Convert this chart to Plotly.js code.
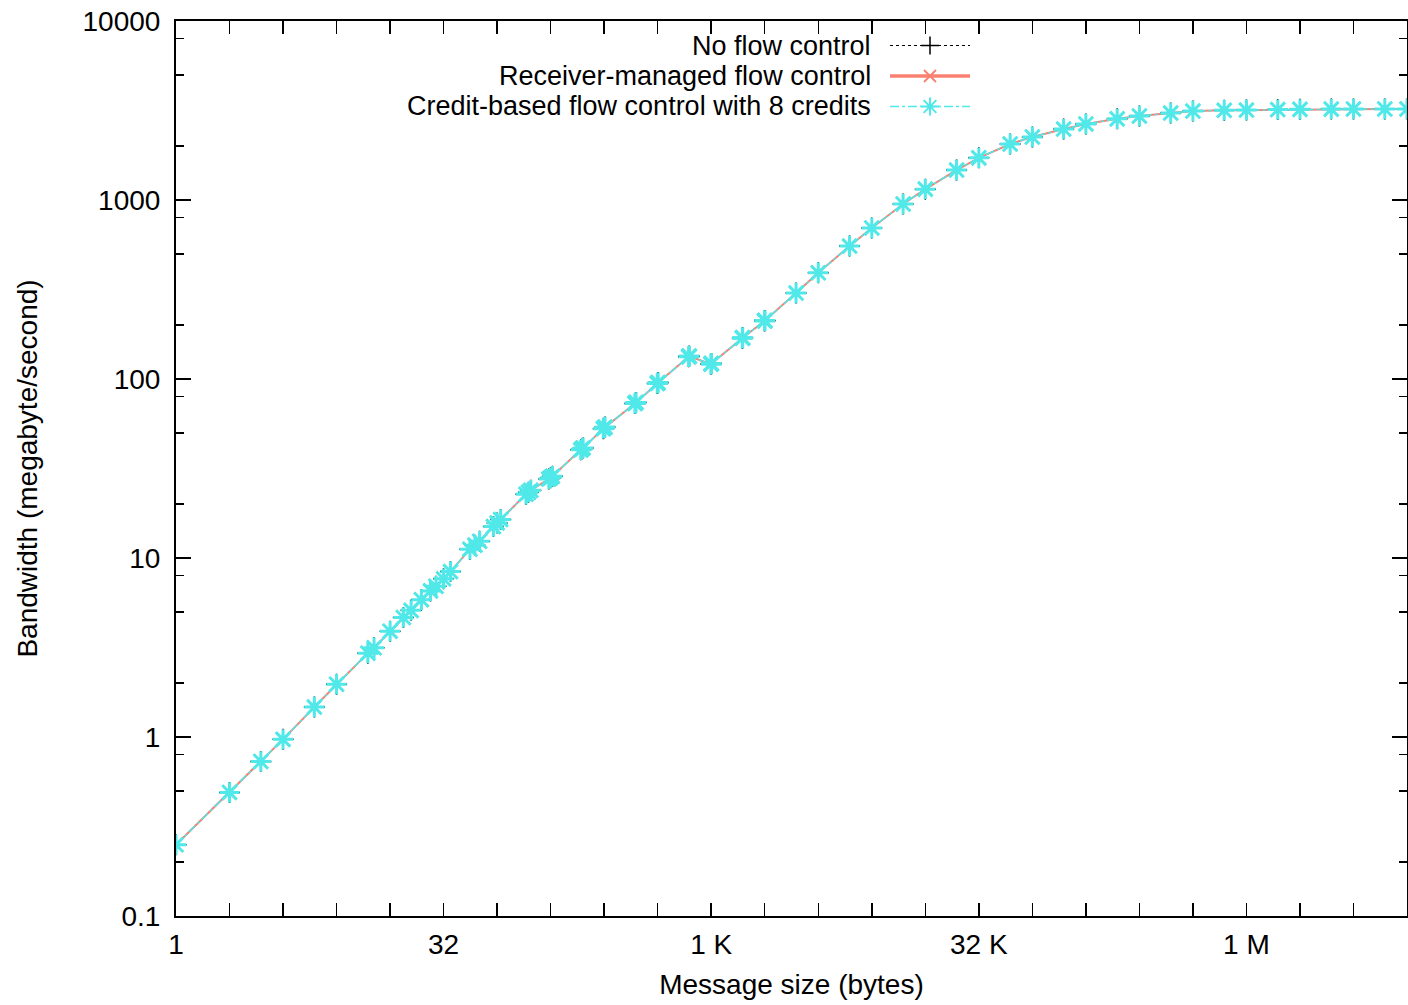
<!DOCTYPE html>
<html>
<head>
<meta charset="utf-8">
<script src="https://cdn.plot.ly/plotly-3.0.1.min.js"></script>
<style>
  html, body { margin: 0; padding: 0; background: #ffffff; }
  #chart { width: 1408px; height: 1005px; }
</style>
</head>
<body>
<div id="chart"></div>
<script>
// Message sizes in bytes (NetPIPE-style sequence)
const messageSizes = [
  1, 2, 3, 4, 6, 8, 12, 13, 16, 19, 21, 24, 27, 29, 32, 35,
  45, 48, 51, 61, 64, 67, 93, 96, 99, 125, 128, 131,
  189, 192, 195, 253, 256, 259, 381, 384, 387, 509, 512, 515,
  765, 768, 771, 1021, 1024, 1027, 1533, 1536, 1539, 2045, 2048, 2051,
  3072, 4096, 6144, 8192, 12288, 16384, 24576, 32768, 49152, 65536,
  98304, 131072, 196608, 262144, 393216, 524288, 786432, 1048576,
  1572864, 2097152, 3145728, 4194304, 6291456, 8388608
];

// Bandwidth (megabyte/second)
const bwNoFlowControl = [
  0.25, 0.49, 0.73, 0.97, 1.47, 1.97, 2.94, 3.15, 3.9, 4.65, 5.1, 5.85, 6.55, 6.95, 7.65, 8.4,
  11.2, 11.8, 12.4, 15.0, 15.7, 16.4, 22.7, 23.3, 23.9, 27.6, 28.1, 28.6,
  40.2, 40.7, 41.2, 52.8, 53.3, 53.9, 73.0, 73.5, 74.0, 94.5, 95.0, 95.5,
  133, 134, 134, 121, 122, 122, 169, 170, 170, 211, 212, 212,
  302, 392, 553, 698, 950, 1150, 1470, 1720, 2055, 2250,
  2490, 2660, 2840, 2945, 3060, 3140, 3170, 3180,
  3200, 3210, 3220, 3225, 3225, 3225
];
const bwReceiverManaged = [
  0.25, 0.49, 0.73, 0.97, 1.47, 1.97, 2.94, 3.15, 3.9, 4.65, 5.1, 5.85, 6.55, 6.95, 7.65, 8.4,
  11.2, 11.8, 12.4, 15.0, 15.7, 16.4, 22.7, 23.3, 23.9, 27.6, 28.1, 28.6,
  40.2, 40.7, 41.2, 52.8, 53.3, 53.9, 73.0, 73.5, 74.0, 94.5, 95.0, 95.5,
  133, 134, 134, 121, 122, 122, 169, 170, 170, 211, 212, 212,
  302, 392, 553, 698, 950, 1150, 1470, 1720, 2055, 2250,
  2490, 2660, 2840, 2945, 3060, 3140, 3170, 3180,
  3200, 3210, 3220, 3225, 3225, 3225
];
const bwCreditBased = [
  0.25, 0.49, 0.73, 0.97, 1.47, 1.97, 2.94, 3.15, 3.9, 4.65, 5.1, 5.85, 6.55, 6.95, 7.65, 8.4,
  11.2, 11.8, 12.4, 15.0, 15.7, 16.4, 22.7, 23.3, 23.9, 27.6, 28.1, 28.6,
  40.2, 40.7, 41.2, 52.8, 53.3, 53.9, 73.0, 73.5, 74.0, 94.5, 95.0, 95.5,
  133, 134, 134, 121, 122, 122, 169, 170, 170, 211, 212, 212,
  302, 392, 553, 698, 950, 1150, 1470, 1720, 2055, 2250,
  2490, 2660, 2840, 2945, 3060, 3140, 3170, 3180,
  3200, 3210, 3220, 3225, 3225, 3225
];

const seriesNames = [
  'No flow control',
  'Receiver-managed flow control',
  'Credit-based flow control with 8 credits'
];

// Axis ticks
const xTickVals = [1, 2, 4, 8, 16, 32, 64, 128, 256, 512, 1024, 2048, 4096, 8192, 16384,
  32768, 65536, 131072, 262144, 524288, 1048576, 2097152, 4194304, 8388608];
const xTickText = ['1', '', '', '', '', '32', '', '', '', '', '1 K', '', '', '', '',
  '32 K', '', '', '', '', '1 M', '', '', ''];
const yTickVals = [0.1, 1, 10, 100, 1000, 10000];
const yTickText = ['0.1', '1', '10', '100', '1000', '10000'];
const yMinorTickVals = [0.2, 0.5, 0.8, 2, 5, 8, 20, 50, 80, 200, 500, 800, 2000, 5000, 8000];

// ---- layout geometry (pixels) ----
const W = 1408, H = 1005;
const M = { l: 176, r: 1, t: 21, b: 89 };
const PW = W - M.l - M.r, PH = H - M.t - M.b;
const px2x = p => (p - M.l) / PW;
const px2y = p => 1 - (p - M.t) / PH;

const FONT = 'Liberation Sans, Arial, Helvetica, sans-serif';
const FS = 28;
const LEGEND_FS = 27;
const BLACK = '#000000';
const SALMON = 'rgb(250,128,114)';
const CYAN = 'rgb(80,232,232)';

const styles = [
  { line: { color: BLACK, width: 1, dash: 'dot' }, marker: { symbol: 'cross-thin-open', size: 15, color: BLACK, line: { color: '#333333', width: 1.5 } } },
  { line: { color: SALMON, width: 2, dash: 'solid' }, marker: { symbol: 'x-thin-open', size: 14, color: SALMON, line: { color: SALMON, width: 1.8 } } },
  { line: { color: CYAN, width: 1.5, dash: 'dashdot' }, marker: { symbol: 'asterisk-open', size: 17, color: CYAN, line: { color: CYAN, width: 3 } } }
];
const seriesData = [bwNoFlowControl, bwReceiverManaged, bwCreditBased];

const traces = seriesData.map((ys, i) => ({
  type: 'scatter',
  mode: 'lines+markers',
  name: seriesNames[i],
  x: messageSizes,
  y: ys,
  line: styles[i].line,
  marker: styles[i].marker,
  showlegend: false,
  xaxis: 'x', yaxis: 'y'
}));

// ---- hand-made legend (text left, key right, as in the original) ----
const legendRowsPx = [45.5, 76, 106.5];
const legendTextRightPx = 873;
const keyStartPx = 890, keyEndPx = 970, keyMidPx = 930;
const annotations = [];
seriesNames.forEach((name, i) => {
  const yy = px2y(legendRowsPx[i]);
  annotations.push({
    xref: 'paper', yref: 'paper',
    x: px2x(legendTextRightPx), y: yy,
    xanchor: 'right', yanchor: 'middle',
    text: name, showarrow: false,
    font: { family: FONT, size: LEGEND_FS, color: '#000' }
  });
  const keyLineWidth = i === 1 ? 3.5 : styles[i].line.width;
  const keyMarker = Object.assign({}, styles[i].marker, { size: styles[i].marker.size - 2, line: Object.assign({}, styles[i].marker.line, { width: i === 2 ? 2 : styles[i].marker.line.width }) });
  traces.push({
    type: 'scatter', mode: 'lines', showlegend: false, hoverinfo: 'skip',
    x: [px2x(keyStartPx), px2x(keyEndPx)], y: [yy, yy],
    line: Object.assign({}, styles[i].line, { width: keyLineWidth }),
    xaxis: 'x2', yaxis: 'y2'
  });
  traces.push({
    type: 'scatter', mode: 'markers', showlegend: false, hoverinfo: 'skip',
    x: [px2x(keyMidPx)], y: [yy],
    marker: keyMarker,
    xaxis: 'x2', yaxis: 'y2'
  });
});

const layout = {
  width: W, height: H,
  margin: M,
  paper_bgcolor: '#ffffff',
  plot_bgcolor: '#ffffff',
  font: { family: FONT, size: FS, color: '#000' },
  showlegend: false,
  xaxis: {
    type: 'log',
    range: [0, Math.log10(8388608)],
    tickmode: 'array', tickvals: xTickVals, ticktext: xTickText,
    ticks: 'inside', ticklen: 13, tickwidth: 1.5, tickcolor: BLACK,
    showline: true, linecolor: BLACK, linewidth: 2, mirror: 'ticks',
    showgrid: false, zeroline: false,
    tickfont: { family: FONT, size: FS, color: '#000' },
    ticklabelstandoff: 2,
    title: { text: 'Message size (bytes)', font: { family: FONT, size: FS, color: '#000' }, standoff: 16 }
  },
  yaxis: {
    type: 'log',
    range: [-1, 4],
    tickmode: 'array', tickvals: yTickVals, ticktext: yTickText,
    ticks: 'inside', ticklen: 15, tickwidth: 1.5, tickcolor: BLACK,
    minor: { tickmode: 'array', tickvals: yMinorTickVals, ticks: 'inside', ticklen: 8, tickwidth: 1.5, tickcolor: BLACK, showgrid: false },
    showline: true, linecolor: BLACK, linewidth: 2, mirror: 'ticks',
    showgrid: false, zeroline: false,
    tickfont: { family: FONT, size: FS, color: '#000' },
    ticklabelstandoff: 8,
    title: { text: 'Bandwidth (megabyte/second)', font: { family: FONT, size: FS, color: '#000' }, standoff: 37 }
  },
  xaxis2: { overlaying: 'x', range: [0, 1], visible: false, fixedrange: true },
  yaxis2: { overlaying: 'y', range: [0, 1], visible: false, fixedrange: true },
  annotations: annotations
};

Plotly.newPlot('chart', traces, layout, { staticPlot: true, displayModeBar: false });
</script>
</body>
</html>
